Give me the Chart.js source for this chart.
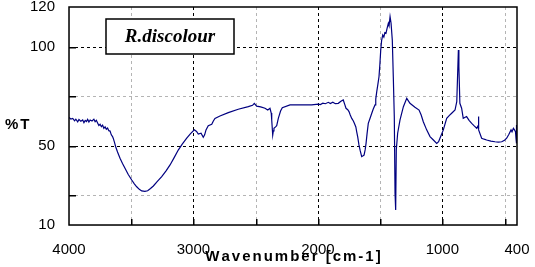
<!DOCTYPE html>
<html>
<head>
<meta charset="utf-8">
<script src="https://cdn.jsdelivr.net/npm/chart.js@4/dist/chart.umd.min.js"></script>
<style>
  html, body { margin: 0; padding: 0; background: #fff; }
  #wrap { width: 535px; height: 267px; }
</style>
</head>
<body>
<div id="wrap"><canvas id="myChart" width="535" height="267"></canvas></div>
<script>
// IR spectrum
const sampleName = 'R.discolour';
const xTitle = 'Wavenumber [cm-1]';
const yTitle = '%T';

const wavenumbers = [
    4000, 3985, 3970, 3955, 3945, 3930, 3920, 3905, 3890, 3880, 3870, 3860, 3850, 3840, 3830, 3815,
    3800, 3790, 3780, 3770, 3760, 3750, 3740, 3730, 3720, 3710, 3700, 3690, 3680, 3670, 3660, 3650,
    3644, 3635, 3625, 3610, 3590, 3570, 3550, 3525, 3496, 3475, 3456, 3435, 3416, 3390, 3368, 3345,
    3322, 3290, 3255, 3220, 3188, 3155, 3122, 3090, 3054, 3025, 2993, 2975, 2961, 2939, 2921, 2910,
    2899, 2881, 2853, 2840, 2827, 2787, 2720, 2640, 2559, 2525, 2511, 2492, 2460, 2425, 2403, 2385,
    2375, 2371, 2363, 2358, 2353, 2340, 2331, 2318, 2300, 2286, 2224, 2050, 1997, 1980, 1960, 1940,
    1916, 1900, 1880, 1860, 1836, 1815, 1796, 1785, 1774, 1760, 1750, 1740, 1728, 1715, 1707, 1695,
    1688, 1680, 1670, 1660, 1648, 1640, 1629, 1620, 1613, 1605, 1595, 1580, 1567, 1555, 1541, 1535,
    1527, 1518, 1509, 1502, 1495, 1488, 1479, 1470, 1462, 1453, 1445, 1434, 1428, 1420, 1412, 1402,
    1394, 1386, 1380, 1375, 1370, 1359, 1340, 1313, 1286, 1260, 1220, 1187, 1170, 1153, 1126, 1099,
    1072, 1045, 1030, 1019, 992, 965, 945, 925, 898, 884, 876, 871, 867, 859, 845, 832,
    805, 785, 764, 744, 724, 713, 711, 708, 706, 684, 664, 644, 610, 577, 550, 523,
    500, 483, 465, 448, 440, 429, 420, 412, 408, 406, 402, 400
];
const transmittance = [
    64.2, 63.5, 63.8, 62.6, 63.4, 62.0, 63.2, 62.4, 63.0, 61.6, 62.8, 62.2, 63.3, 62.0, 63.0, 62.5,
    63.4, 62.1, 62.8, 61.5, 60.2, 60.8, 59.6, 60.4, 58.8, 59.5, 58.3, 58.9, 57.6, 57.4, 55.5, 54.6,
    53.7, 51.8, 49.5, 46.8, 43.7, 41.0, 38.6, 35.6, 32.7, 30.8, 29.3, 28.0, 27.2, 27.0, 27.3, 28.4,
    29.7, 32.0, 34.4, 37.3, 40.3, 44.0, 47.8, 50.8, 53.8, 56.0, 58.0, 57.2, 55.9, 56.3, 54.3, 55.5,
    58.0, 60.1, 60.8, 62.5, 63.8, 65.0, 66.7, 68.4, 69.7, 70.4, 71.4, 70.0, 69.6, 68.9, 68.0, 68.9,
    66.5, 63.0, 55.4, 57.5, 58.8, 59.5, 60.1, 63.8, 67.5, 69.2, 70.6, 70.6, 71.0, 70.8, 71.5, 71.2,
    71.9, 71.3, 72.0, 71.2, 71.4, 72.4, 73.1, 71.0, 68.9, 68.2, 67.2, 65.5, 63.8, 62.5, 61.3, 59.5,
    57.0, 54.5, 50.4, 47.5, 44.5, 44.8, 45.3, 48.0, 51.2, 56.0, 61.3, 64.0, 66.4, 68.5, 70.6, 73.5,
    77.3, 81.0, 84.8, 91.0, 98.3, 103.0, 105.9, 104.8, 107.0, 106.7, 109.0, 111.8, 110.5, 115.1, 111.8, 103.3,
    84.8, 64.7, 26.0, 17.6, 47.9, 56.3, 63.0, 69.7, 73.9, 71.4, 69.4, 68.0, 65.5, 62.1, 58.0, 54.6,
    52.9, 51.2, 52.0, 53.8, 58.0, 63.8, 65.2, 66.4, 68.0, 72.2, 88.2, 98.3, 89.9, 71.4, 68.9, 63.8,
    64.7, 62.8, 61.3, 60.0, 58.8, 60.0, 64.7, 62.0, 58.0, 53.8, 53.3, 52.9, 52.3, 52.0, 51.8, 52.0,
    52.8, 53.8, 55.8, 58.0, 57.0, 58.8, 58.0, 57.0, 53.5, 51.2, 60.5, 56.0
];

const xTicks = [400, 500, 1000, 1500, 2000, 2500, 3000, 3500, 4000];
const xLabels = [400, 1000, 2000, 3000, 4000];
const yTicks = [10, 25, 50, 75, 100, 120];
const yLabels = [10, 50, 100, 120];

const gridColor = (major) => major ? '#000000' : '#b4b4b4';

// dashes drawn one by one as small rectangles
function dashedLine(ctx, x1, y1, x2, y2, on, off) {
    if (x1 === x2) {
        for (let y = Math.min(y1, y2); y < Math.max(y1, y2); y += on + off) {
            ctx.fillRect(x1, y, 1, Math.min(on, Math.max(y1, y2) - y));
        }
    } else {
        for (let x = Math.min(x1, x2); x < Math.max(x1, x2); x += on + off) {
            ctx.fillRect(x, y1, Math.min(on, Math.max(x1, x2) - x), 1);
        }
    }
}

// text with extra room between the letters, one glyph at a time
function spacedText(ctx, text, cx, y, gap, center) {
    const chars = text.split('');
    const total = chars.reduce((s, c) => s + ctx.measureText(c).width + gap, 0) - gap;
    let x = center ? cx - total / 2 : cx;
    ctx.textAlign = 'left';
    chars.forEach(c => {
        ctx.fillText(c, x, y);
        x += ctx.measureText(c).width + gap;
    });
}

const frameAndText = {
    id: 'frameAndText',
    beforeDatasetsDraw(chart) {
        const ctx = chart.ctx;
        const a = chart.chartArea;
        const xs = chart.scales.x;
        const ys = chart.scales.y;
        // dashed grid: black on the major values, grey in between
        ctx.save();
        xTicks.forEach(v => {
            if (v === 400 || v === 4000) return;
            const px = Math.round(xs.getPixelForValue(v));
            ctx.fillStyle = gridColor(v % 1000 === 0);
            dashedLine(ctx, px, Math.round(a.top), px, Math.round(a.bottom), 3, 3);
        });
        yTicks.forEach(v => {
            if (v === 10 || v === 120) return;
            const py = Math.round(ys.getPixelForValue(v));
            ctx.fillStyle = gridColor(v % 50 === 0);
            dashedLine(ctx, Math.round(a.left), py, Math.round(a.right), py, 3, 3);
        });
        ctx.restore();
    },
    afterDraw(chart) {
        const ctx = chart.ctx;
        const a = chart.chartArea;
        const xs = chart.scales.x;
        const ys = chart.scales.y;
        ctx.save();
        ctx.strokeStyle = '#000';
        ctx.lineWidth = 1.5;
        ctx.strokeRect(a.left, a.top, a.right - a.left, a.bottom - a.top);

        // short solid ticks inside the frame
        ctx.fillStyle = '#000';
        xTicks.forEach(v => {
            if (v === 400 || v === 4000) return;
            const px = Math.round(xs.getPixelForValue(v));
            ctx.fillRect(px, a.bottom - 6, 1.5, 6);
        });
        yTicks.forEach(v => {
            if (v === 10 || v === 120) return;
            const py = Math.round(ys.getPixelForValue(v));
            ctx.fillRect(a.left, py, 7, 1.5);
        });

        // sample name box
        ctx.fillStyle = '#fff';
        ctx.fillRect(106, 19, 128, 35);
        ctx.strokeRect(106, 19, 128, 35);
        ctx.fillStyle = '#000';
        ctx.font = 'italic bold 19px "Liberation Serif", serif';
        ctx.textAlign = 'center';
        ctx.textBaseline = 'middle';
        ctx.fillText(sampleName, 170, 37);

        // axis titles
        ctx.font = 'bold 15px "Liberation Sans", Arial, sans-serif';
        spacedText(ctx, yTitle, 5, 125, 2, false);
        spacedText(ctx, xTitle, 293, 257, 2, true);
        ctx.restore();
    }
};

new Chart(document.getElementById('myChart'), {
    type: 'scatter',
    data: {
        datasets: [{
            data: wavenumbers.map((w, i) => ({x: w, y: transmittance[i]})),
            showLine: true,
            borderColor: '#000080',
            borderWidth: 1.2,
            pointRadius: 0,
            tension: 0
        }]
    },
    options: {
        responsive: false,
        animation: false,
        layout: {padding: {top: 0, right: 18, left: 0, bottom: 0}},
        plugins: {legend: {display: false}, tooltip: {enabled: false}},
        scales: {
            x: {
                type: 'linear',
                reverse: true,
                min: 400,
                max: 4000,
                afterBuildTicks: (scale) => { scale.ticks = xTicks.map(v => ({value: v})); },
                afterFit: (scale) => { scale.height = 42; },
                ticks: {
                    autoSkip: false,
                    maxRotation: 0,
                    padding: 9,
                    color: '#000',
                    font: {family: '"Liberation Sans", Arial, sans-serif', size: 15, lineHeight: 1},
                    callback: (v) => xLabels.includes(v) ? String(v) : ''
                },
                grid: {display: false}
            },
            y: {
                type: 'linear',
                min: 10,
                max: 120,
                afterBuildTicks: (scale) => { scale.ticks = yTicks.map(v => ({value: v})); },
                afterFit: (scale) => {
                    scale.width = 69;
                    scale.paddingTop = 7;
                    scale.paddingBottom = 0;
                },
                ticks: {
                    autoSkip: false,
                    padding: 6,
                    color: '#000',
                    font: {family: '"Liberation Sans", Arial, sans-serif', size: 15, lineHeight: 1},
                    callback: (v) => yLabels.includes(v) ? String(v) : ''
                },
                grid: {display: false}
            }
        }
    },
    plugins: [frameAndText]
});
</script>
</body>
</html>
